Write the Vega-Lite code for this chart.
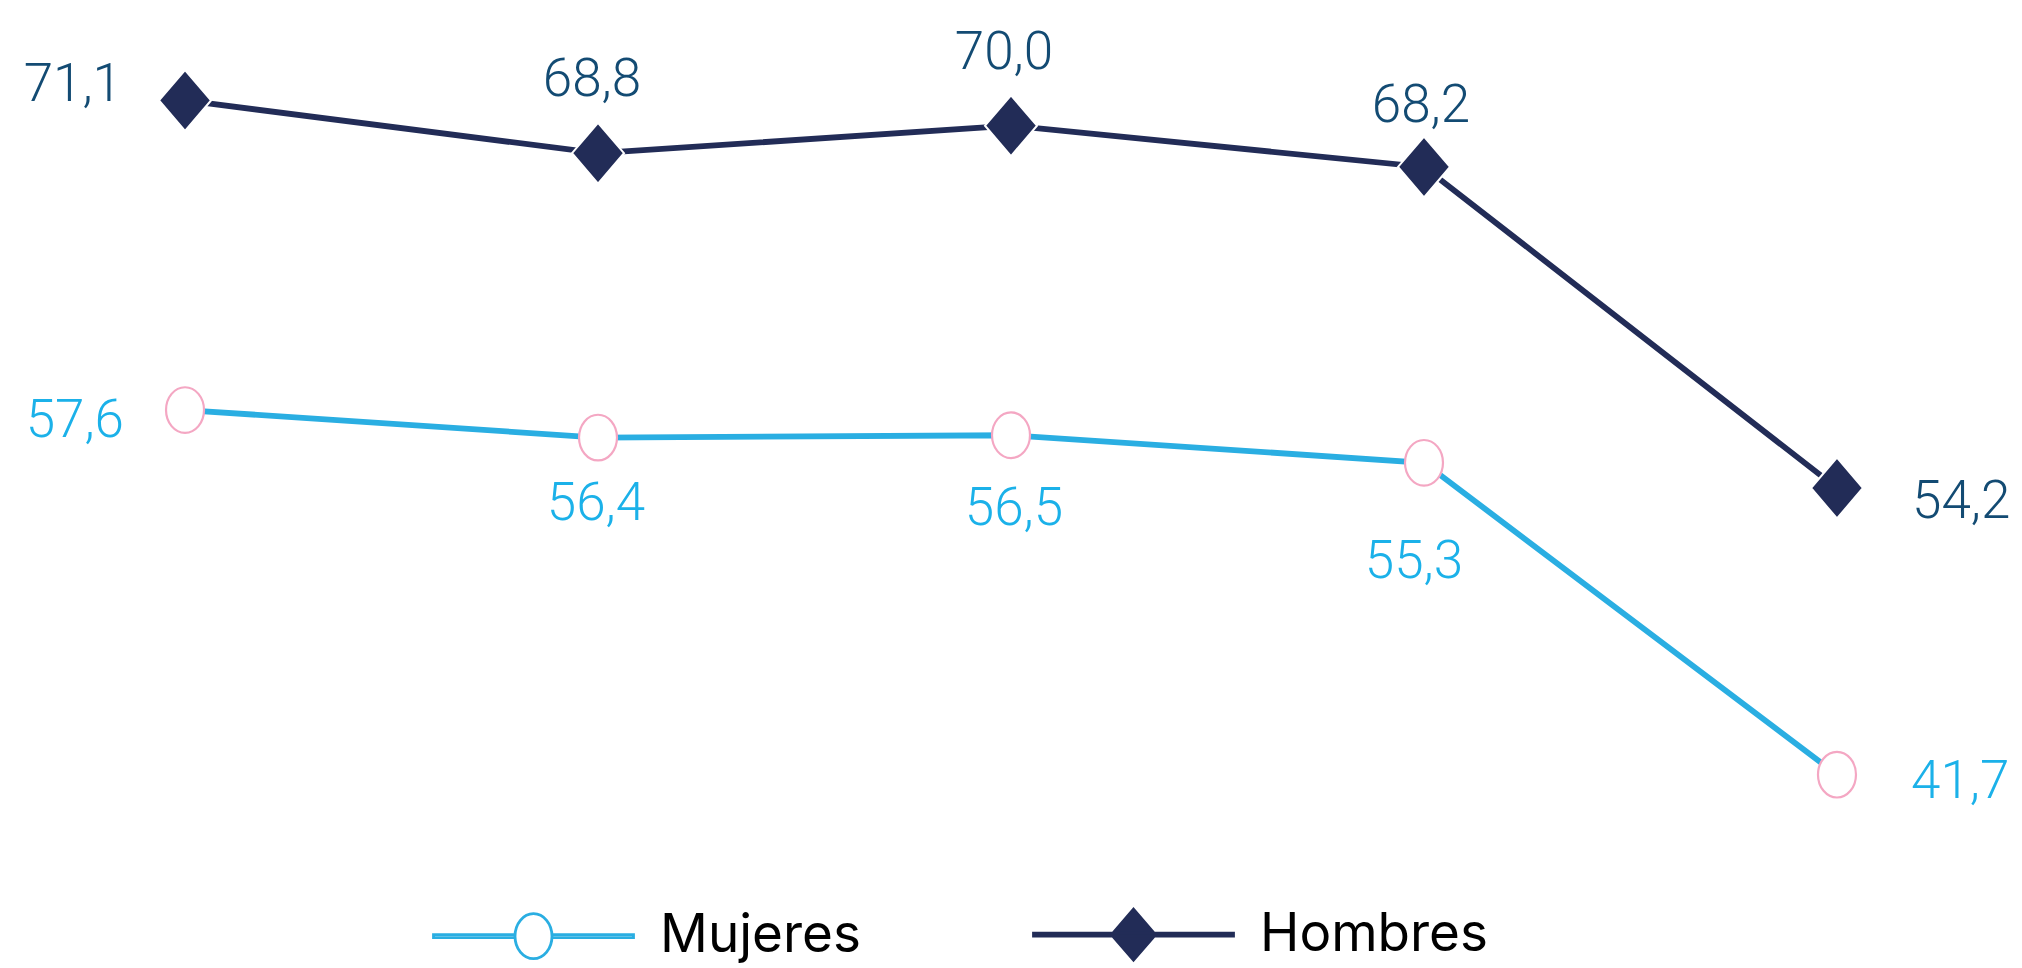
{
  "$schema": "https://vega.github.io/schema/vega-lite/v6.json",
  "width": 2022,
  "height": 968,
  "padding": 0,
  "autosize": {"type": "none"},
  "background": "white",
  "config": {
    "view": {"stroke": null},
    "locale": {"number": {"decimal": ",", "thousands": ".", "grouping": [3], "currency": ["", " €"]}},
    "text": {"font": "Roboto", "fontSize": 53, "fontWeight": 300}
  },
  "data": {
    "values": [
      {"serie": "Hombres", "periodo": 1, "valor": 71.1},
      {"serie": "Hombres", "periodo": 2, "valor": 68.8},
      {"serie": "Hombres", "periodo": 3, "valor": 70.0},
      {"serie": "Hombres", "periodo": 4, "valor": 68.2},
      {"serie": "Hombres", "periodo": 5, "valor": 54.2},
      {"serie": "Mujeres", "periodo": 1, "valor": 57.6},
      {"serie": "Mujeres", "periodo": 2, "valor": 56.4},
      {"serie": "Mujeres", "periodo": 3, "valor": 56.5},
      {"serie": "Mujeres", "periodo": 4, "valor": 55.3},
      {"serie": "Mujeres", "periodo": 5, "valor": 41.7}
    ]
  },
  "encoding": {
    "x": {"field": "periodo", "type": "ordinal", "scale": {"type": "point", "padding": 0.448}, "axis": null},
    "y": {"field": "valor", "type": "quantitative", "scale": {"domain": [33.27, 75.48], "zero": false, "nice": false}, "axis": null}
  },
  "layer": [
    {
      "mark": {"type": "line", "strokeWidth": 5.8},
      "encoding": {
        "color": {
          "field": "serie", "type": "nominal",
          "scale": {"domain": ["Mujeres", "Hombres"], "range": ["#2aaee2", "#222c57"]},
          "legend": {
            "orient": "none", "legendX": 432, "legendY": 833, "direction": "horizontal",
            "title": null, "padding": 0, "symbolSize": 40000, "symbolStrokeWidth": 2.8,
            "labelFont": "Inter", "labelFontSize": 53, "labelFontWeight": 400, "labelColor": "#000000",
            "labelOffset": 25, "columnPadding": 166, "labelLimit": 0,
            "encode": {
              "symbols": {
                "update": {
                  "shape": {"signal": "datum.value === 'Mujeres' ? 'M-1,-0.015L-0.185,-0.015L-0.185,0.015L-1,0.015Z M0.185,-0.015L1,-0.015L1,0.015L0.185,0.015Z M0.185,0C0.185,0.1243 0.1022,0.225 0,0.225C-0.1022,0.225 -0.185,0.1243 -0.185,0C-0.185,-0.1243 -0.1022,-0.225 0,-0.225C0.1022,-0.225 0.185,-0.1243 0.185,0Z' : 'M-1,-0.015L1,-0.015L1,0.015L-1,0.015Z M0,-0.255L0.22,0L0,0.255L-0.22,0Z'"},
                  "fill": {"signal": "datum.value === 'Mujeres' ? '#ffffff' : '#222c57'"},
                  "stroke": {"signal": "datum.value === 'Mujeres' ? '#2aaee2' : '#222c57'"},
                  "strokeWidth": {"value": 2.8},
                  "opacity": {"value": 1}
                }
              }
            }
          }
        }
      }
    },
    {
      "transform": [{"filter": "datum.serie === 'Hombres'"}],
      "mark": {"type": "point", "shape": "M0,-1.17L1,0L0,1.17L-1,0Z", "size": 2704, "filled": true, "fill": "#222c57", "stroke": "#ffffff", "strokeWidth": 2, "opacity": 1}
    },
    {
      "transform": [{"filter": "datum.serie === 'Mujeres'"}],
      "mark": {"type": "point", "shape": "M1,0C1,0.6628 0.5523,1.2 0,1.2C-0.5523,1.2 -1,0.6628 -1,0C-1,-0.6628 -0.5523,-1.2 0,-1.2C0.5523,-1.2 1,-0.6628 1,0Z", "size": 1444, "filled": true, "fill": "#ffffff", "stroke": "#f4a7c3", "strokeWidth": 2.2, "opacity": 1}
    },
    {
      "transform": [{"filter": "datum.serie === 'Hombres' && datum.periodo === 1"}],
      "mark": {"type": "text", "align": "right", "baseline": "alphabetic", "dx": -63, "dy": 0.5, "color": "#134b73"},
      "encoding": {"text": {"field": "valor", "type": "quantitative", "format": ".1f"}}
    },
    {
      "transform": [{"filter": "datum.serie === 'Hombres' && datum.periodo === 2"}],
      "mark": {"type": "text", "align": "center", "baseline": "alphabetic", "dx": -6, "dy": -57, "color": "#134b73"},
      "encoding": {"text": {"field": "valor", "type": "quantitative", "format": ".1f"}}
    },
    {
      "transform": [{"filter": "datum.serie === 'Hombres' && datum.periodo === 3"}],
      "mark": {"type": "text", "align": "center", "baseline": "alphabetic", "dx": -7, "dy": -57, "color": "#134b73"},
      "encoding": {"text": {"field": "valor", "type": "quantitative", "format": ".1f"}}
    },
    {
      "transform": [{"filter": "datum.serie === 'Hombres' && datum.periodo === 4"}],
      "mark": {"type": "text", "align": "center", "baseline": "alphabetic", "dx": -3, "dy": -45, "color": "#134b73"},
      "encoding": {"text": {"field": "valor", "type": "quantitative", "format": ".1f"}}
    },
    {
      "transform": [{"filter": "datum.serie === 'Hombres' && datum.periodo === 5"}],
      "mark": {"type": "text", "align": "left", "baseline": "alphabetic", "dx": 75, "dy": 30, "color": "#134b73"},
      "encoding": {"text": {"field": "valor", "type": "quantitative", "format": ".1f"}}
    },
    {
      "transform": [{"filter": "datum.serie === 'Mujeres' && datum.periodo === 1"}],
      "mark": {"type": "text", "align": "right", "baseline": "alphabetic", "dx": -61, "dy": 27, "color": "#1bb1e9"},
      "encoding": {"text": {"field": "valor", "type": "quantitative", "format": ".1f"}}
    },
    {
      "transform": [{"filter": "datum.serie === 'Mujeres' && datum.periodo === 2"}],
      "mark": {"type": "text", "align": "center", "baseline": "alphabetic", "dx": -2, "dy": 82, "color": "#1bb1e9"},
      "encoding": {"text": {"field": "valor", "type": "quantitative", "format": ".1f"}}
    },
    {
      "transform": [{"filter": "datum.serie === 'Mujeres' && datum.periodo === 3"}],
      "mark": {"type": "text", "align": "center", "baseline": "alphabetic", "dx": 3, "dy": 90, "color": "#1bb1e9"},
      "encoding": {"text": {"field": "valor", "type": "quantitative", "format": ".1f"}}
    },
    {
      "transform": [{"filter": "datum.serie === 'Mujeres' && datum.periodo === 4"}],
      "mark": {"type": "text", "align": "center", "baseline": "alphabetic", "dx": -10, "dy": 115, "color": "#1bb1e9"},
      "encoding": {"text": {"field": "valor", "type": "quantitative", "format": ".1f"}}
    },
    {
      "transform": [{"filter": "datum.serie === 'Mujeres' && datum.periodo === 5"}],
      "mark": {"type": "text", "align": "left", "baseline": "alphabetic", "dx": 74, "dy": 23, "color": "#1bb1e9"},
      "encoding": {"text": {"field": "valor", "type": "quantitative", "format": ".1f"}}
    }
  ]
}
